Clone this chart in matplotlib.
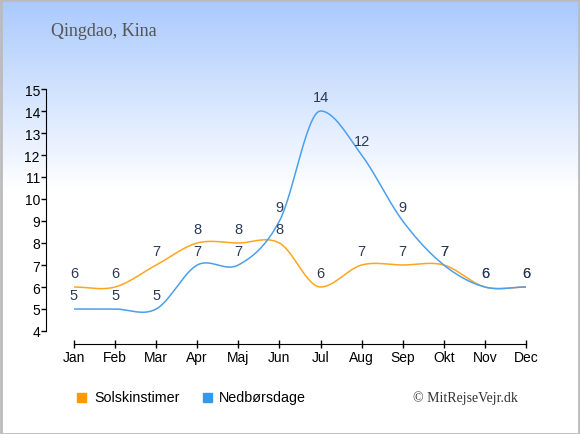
import numpy as np
import matplotlib.pyplot as plt
from matplotlib.patches import Rectangle

months = ["Jan", "Feb", "Mar", "Apr", "Maj", "Jun", "Jul", "Aug", "Sep", "Okt", "Nov", "Dec"]
sun_hours = [6, 6, 7, 8, 8, 8, 6, 7, 7, 7, 6, 6]
rain_days = [5, 5, 5, 7, 7, 9, 14, 12, 9, 7, 6, 6]

sun_color = "#ffa520"
rain_color = "#4a9ff0"
label_color = "#2b3a55"


def smooth(y, steps=30):
    # Catmull-Rom style curve, flat at local peaks/valleys
    y = np.asarray(y, dtype=float)
    n = len(y)
    m = np.zeros(n)
    m[1:-1] = (y[2:] - y[:-2]) / 2
    for i in range(1, n - 1):
        if (y[i] - y[i-1]) * (y[i+1] - y[i]) < 0:
            m[i] = 0
    xs, ys = [], []
    for i in range(n - 1):
        t = np.linspace(0, 1, steps, endpoint=False)
        h00 = 2*t**3 - 3*t**2 + 1
        h10 = t**3 - 2*t**2 + t
        h01 = -2*t**3 + 3*t**2
        h11 = t**3 - t**2
        xs.append(i + t)
        ys.append(h00*y[i] + h10*m[i] + h01*y[i+1] + h11*m[i+1])
    xs.append([n - 1])
    ys.append([y[-1]])
    return np.concatenate(xs), np.concatenate(ys)


fig = plt.figure(figsize=(5.8, 4.35), dpi=100)

# gradient background
bg = fig.add_axes([0, 0, 1, 1], zorder=-10)
rows = np.linspace(0, 1, 435)
fade = np.clip(rows / 0.44, 0, 1)[:, None]
top = np.array([169, 201, 253]) / 255
grad = top[None, :] * (1 - fade) + np.ones(3)[None, :] * fade
bg.imshow(np.repeat(grad[:, None, :], 10, axis=1), aspect="auto", extent=[0, 1, 0, 1])
bg.set_xlim(0, 1)
bg.set_ylim(0, 1)
bg.axis("off")
bg.add_patch(Rectangle((0.001, 0.001), 0.997, 0.997, fill=False, edgecolor="#bbbbbb", lw=2))

ax = fig.add_axes([74/580, 103/435, 452/580, 242/435])
ax.patch.set_alpha(0)

x = np.arange(len(months))
sx, sy = smooth(sun_hours)
rx, ry = smooth(rain_days)
ax.plot(sx, sy, color=sun_color, lw=1.1)
ax.plot(rx, ry, color=rain_color, lw=1.1)

for i in x:
    ax.annotate(str(sun_hours[i]), (i, sun_hours[i]), xytext=(0, 10), textcoords="offset points",
                ha="center", va="center", fontsize=10.5, color=label_color, family="Liberation Sans")
    ax.annotate(str(rain_days[i]), (i, rain_days[i]), xytext=(0, 10), textcoords="offset points",
                ha="center", va="center", fontsize=10.5, color=label_color, family="Liberation Sans")

ax.set_xlim(0, 11)
ax.set_ylim(4, 15)
ax.set_xticks(x)
ax.set_xticklabels(months)
ax.set_yticks(range(4, 16))
for s in ["top", "right"]:
    ax.spines[s].set_visible(False)
ax.spines["left"].set_position(("outward", 20))
ax.spines["bottom"].set_position(("outward", 9))
ax.tick_params(axis="x", direction="inout", length=6, width=1, pad=1.5, labelsize=10)
ax.tick_params(axis="y", direction="out", length=3.5, width=1, pad=1, labelsize=10)
for lab in ax.get_xticklabels() + ax.get_yticklabels():
    lab.set_family("Liberation Sans")

fig.text(51/580, 1 - 32/435, "Qingdao, Kina", fontsize=13, color="#555555",
         family="Liberation Serif", va="center")

# legend
bg.add_patch(Rectangle((77/580, 1 - 403/435), 9/580, 9/435, color="#ff9900"))
fig.text(94/580, 1 - 398/435, "Solskinstimer", fontsize=10.3, va="center", family="Liberation Sans")
bg.add_patch(Rectangle((203/580, 1 - 403/435), 9/580, 9/435, color="#3399ee"))
fig.text(219/580, 1 - 398/435, "Nedbørsdage", fontsize=10.3, va="center", family="Liberation Sans")
fig.text(413/580, 1 - 398/435, "© MitRejseVejr.dk", fontsize=10, va="center",
         family="Liberation Serif", color="#333333")

fig.savefig("out.png", dpi=100)
